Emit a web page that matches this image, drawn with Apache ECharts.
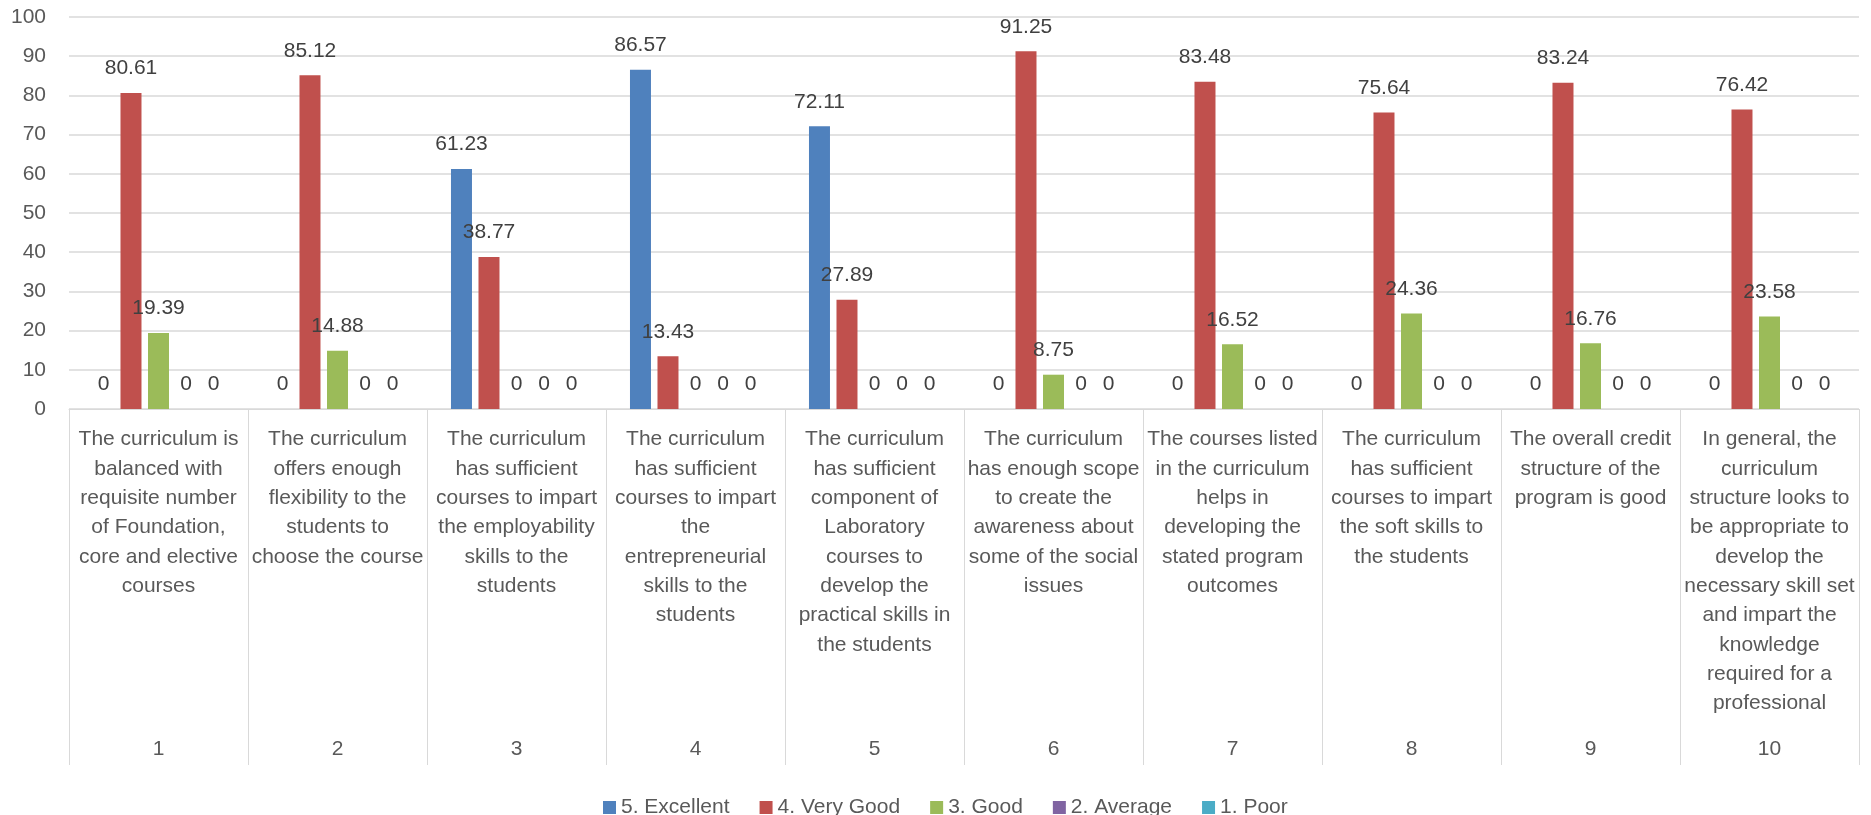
<!DOCTYPE html>
<html>
<head>
<meta charset="utf-8">
<script src="https://cdn.jsdelivr.net/npm/echarts@6/dist/echarts.min.js"></script>
<style>
html,body{margin:0;padding:0;background:#fff;}
#chart{width:1871px;height:815px;}
</style>
</head>
<body>
<div id="chart"></div>
<script>
const categoryNumbers = ['1', '2', '3', '4', '5', '6', '7', '8', '9', '10'];
const categoryTexts = [
  'The curriculum is\nbalanced with\nrequisite number\nof Foundation,\ncore and elective\ncourses',
  'The curriculum\noffers enough\nflexibility to the\nstudents to\nchoose the course',
  'The curriculum\nhas sufficient\ncourses to impart\nthe employability\nskills to the\nstudents',
  'The curriculum\nhas sufficient\ncourses to impart\nthe\nentrepreneurial\nskills to the\nstudents',
  'The curriculum\nhas sufficient\ncomponent of\nLaboratory\ncourses to\ndevelop the\npractical skills in\nthe students',
  'The curriculum\nhas enough scope\nto create the\nawareness about\nsome of the social\nissues',
  'The courses listed\nin the curriculum\nhelps in\ndeveloping the\nstated program\noutcomes',
  'The curriculum\nhas sufficient\ncourses to impart\nthe soft skills to\nthe students',
  'The overall credit\nstructure of the\nprogram is good',
  'In general, the\ncurriculum\nstructure looks to\nbe appropriate to\ndevelop the\nnecessary skill set\nand impart the\nknowledge\nrequired for a\nprofessional'
];
const seriesNames = ['5. Excellent', '4. Very Good', '3. Good', '2. Average', '1. Poor'];
const excellent = [0, 0, 61.23, 86.57, 72.11, 0, 0, 0, 0, 0];
const veryGood = [80.61, 85.12, 38.77, 13.43, 27.89, 91.25, 83.48, 75.64, 83.24, 76.42];
const good = [19.39, 14.88, 0, 0, 0, 8.75, 16.52, 24.36, 16.76, 23.58];
const average = [0, 0, 0, 0, 0, 0, 0, 0, 0, 0];
const poor = [0, 0, 0, 0, 0, 0, 0, 0, 0, 0];
const yMin = 0, yMax = 100, yStep = 10;

const colors = ['#4F81BD', '#C0504D', '#9BBB59', '#8064A2', '#4BACC6'];
const values = [excellent, veryGood, good, average, poor];
const FONT = 'Liberation Sans';

const chart = echarts.init(document.getElementById('chart'), null, {renderer: 'canvas'});
chart.setOption({
  animation: false,
  backgroundColor: '#ffffff',
  color: colors,
  textStyle: {fontFamily: FONT},
  grid: {left: 69, right: 12, top: 17, bottom: 406, containLabel: false},
  legend: {
    data: seriesNames,
    left: 598,
    top: 792,
    icon: 'rect',
    itemWidth: 13,
    itemHeight: 13,
    itemGap: 30,
    textStyle: {fontFamily: FONT, fontSize: 21, color: '#595959', padding: [0, 0, 0, 0]}
  },
  xAxis: [
    {
      type: 'category',
      data: categoryTexts,
      position: 'bottom',
      axisLine: {show: true, lineStyle: {color: '#d9d9d9', width: 1}},
      axisTick: {show: true, length: 356, interval: 0, alignWithLabel: false, lineStyle: {color: '#d9d9d9', width: 1}},
      axisLabel: {interval: 0, margin: 16, fontFamily: FONT, fontSize: 21, lineHeight: 29.3, color: '#595959', align: 'center'},
      splitLine: {show: false}
    },
    {
      type: 'category',
      data: categoryNumbers,
      position: 'bottom',
      offset: 328,
      axisLine: {show: false},
      axisTick: {show: false},
      axisLabel: {interval: 0, margin: 0, fontFamily: FONT, fontSize: 21, lineHeight: 25, color: '#595959'},
      splitLine: {show: false}
    }
  ],
  yAxis: {
    type: 'value',
    min: yMin,
    max: yMax,
    interval: yStep,
    axisLine: {show: false},
    axisTick: {show: false},
    axisLabel: {margin: 23, fontFamily: FONT, fontSize: 21, color: '#595959'},
    splitLine: {lineStyle: {color: '#d9d9d9', width: 1.5}}
  },
  series: seriesNames.map((name, i) => ({
    name: name,
    type: 'bar',
    xAxisIndex: 0,
    data: values[i],
    barWidth: 21,
    barGap: '31%',
    itemStyle: {color: colors[i]},
    label: {
      show: true,
      position: 'top',
      distance: 14,
      fontFamily: FONT,
      fontSize: 21,
      color: '#404040'
    }
  }))
});
</script>
</body>
</html>
